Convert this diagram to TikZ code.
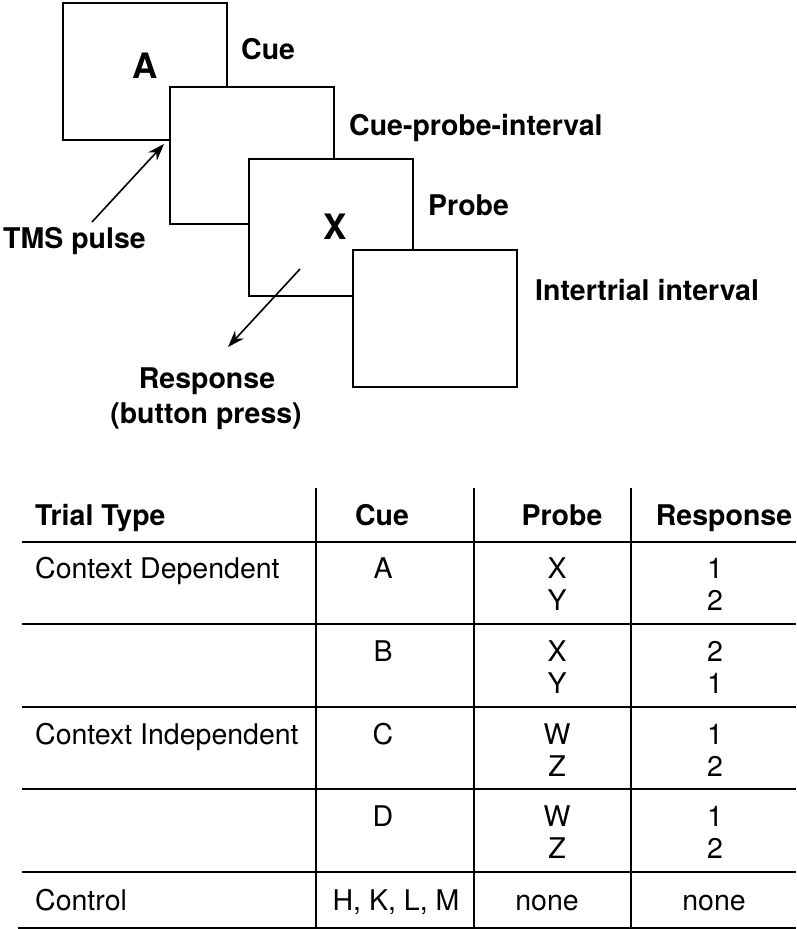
\documentclass[tikz,border=0pt]{standalone}
\usepackage{fontspec}
\setmainfont{TeX Gyre Heros}
\usetikzlibrary{arrows.meta}
\begin{document}
\begin{tikzpicture}[x=1pt,y=-1pt,
  frame/.style={draw,fill=white,line width=2pt,minimum width=164pt,minimum height=137pt,inner sep=0pt,outer sep=0pt},
  lbl/.style={font=\fontsize{28.5}{34}\selectfont\bfseries,inner sep=0pt,anchor=base west},
  big/.style={font=\fontsize{35}{40}\selectfont\bfseries,inner sep=0pt,anchor=base},
  ptr/.style={line width=1.6pt,-{Stealth[length=17pt,width=12pt]}},
  cell/.style={font=\fontsize{28.5}{34}\selectfont,inner sep=0pt,anchor=base},
  cellw/.style={cell,anchor=base west},
  head/.style={cell,font=\fontsize{28.5}{34}\selectfont\bfseries},
  headw/.style={head,anchor=base west},
  rule/.style={line width=2pt},
  brule/.style={line width=3pt}]
\useasboundingbox (0,0) rectangle (796,929);
% stacked frames
\node[frame] (f1) at (145,71.5) {};
\node[frame] (f2) at (252,155) {};
\node[frame] (f3) at (330.5,227) {};
\node[frame] (f4) at (435,318.5) {};
\node[big] (la) at (145,78.5) {A};
\node[big] (lx) at (335,239.5) {X};
% labels
\node[lbl] (cue) at (241,59) {Cue};
\node[lbl] (cpi) at (349,135) {Cue-probe-interval};
\node[lbl] (probe) at (428,215) {Probe};
\node[lbl] (iti) at (535,300) {Intertrial interval};
\node[lbl] (tms) at (3,248) {TMS pulse};
\node[lbl,anchor=base] (resp) at (207,388) {Response};
\node[lbl,anchor=base] (btn) at (206,423) {(button press)};
% arrows
\coordinate (tmsS) at (92,222);
\coordinate (tmsE) at (164,144);
\coordinate (respS) at (300,269);
\coordinate (respE) at (228,347);
\draw[ptr] (tmsS) -- (tmsE);
\draw[ptr] (respS) -- (respE);
% table rules
\draw[rule] (22,542) -- (796,542);
\draw[rule] (22,624) -- (796,624);
\draw[rule] (22,707) -- (796,707);
\draw[rule] (22,789) -- (796,789);
\draw[rule] (22,872) -- (796,872);
\draw[brule] (18,928) -- (796,928);
\draw[rule] (316,488) -- (316,928);
\draw[rule] (474,488) -- (474,928);
\draw[rule] (631,488) -- (631,928);
% header
\node[headw] (hT) at (35,525) {Trial Type};
\node[head] (hC) at (382,525) {Cue};
\node[head] (hP) at (562,525) {Probe};
\node[head] (hR) at (724,525) {Response};
% row 1
\node[cellw] (t1) at (35,578) {Context Dependent};
\node[cell] (c1) at (383,578) {A};
\node[cell] (p1a) at (557,578) {X};
\node[cell] (p1b) at (557,610) {Y};
\node[cell] (r1a) at (715,578) {1};
\node[cell] (r1b) at (715,610) {2};
% row 2
\node[cell] (c2) at (383,661) {B};
\node[cell] (p2a) at (557,661) {X};
\node[cell] (p2b) at (557,693) {Y};
\node[cell] (r2a) at (715,661) {2};
\node[cell] (r2b) at (715,693) {1};
% row 3
\node[cellw] (t3) at (35,744) {Context Independent};
\node[cell] (c3) at (383,744) {C};
\node[cell] (p3a) at (557,744) {W};
\node[cell] (p3b) at (557,776) {Z};
\node[cell] (r3a) at (715,744) {1};
\node[cell] (r3b) at (715,776) {2};
% row 4
\node[cell] (c4) at (383,826) {D};
\node[cell] (p4a) at (557,826) {W};
\node[cell] (p4b) at (557,858) {Z};
\node[cell] (r4a) at (715,826) {1};
\node[cell] (r4b) at (715,858) {2};
% row 5
\node[cellw] (t5) at (35,910) {Control};
\node[cell] (c5) at (396,910) {H, K, L, M};
\node[cell] (p5) at (547,910) {none};
\node[cell] (r5) at (714,910) {none};
\end{tikzpicture}
\end{document}
